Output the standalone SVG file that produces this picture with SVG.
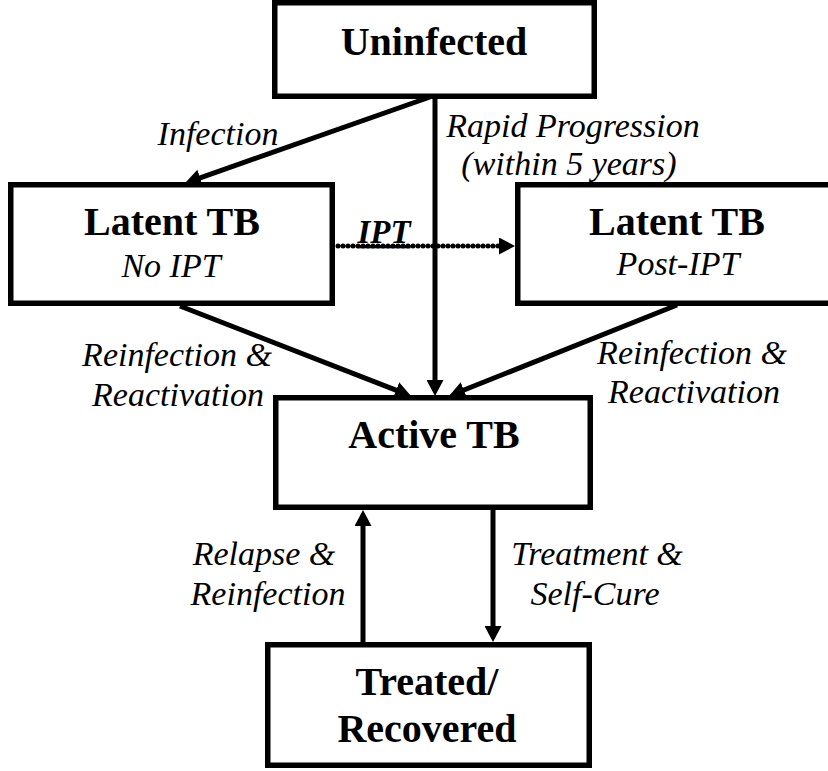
<svg xmlns="http://www.w3.org/2000/svg" width="828" height="771" viewBox="0 0 828 771">
<style>
.box{fill:#fff;stroke:#000;stroke-width:5.5}
.edge{fill:none;stroke:#000;stroke-width:5}
.dot{fill:none;stroke:#000;stroke-width:5;stroke-linecap:round;stroke-dasharray:0 5}
</style>
<defs>
<marker id="ah" markerUnits="userSpaceOnUse" markerWidth="16" markerHeight="17" viewBox="0 0 16 17" refX="6" refY="8.5" orient="auto">
<path d="M0,0 L16,8.5 L0,17 z" fill="#000"/>
</marker>
</defs>
<g id="connectors">
<line class="edge" x1="430" y1="97" x2="194.5" y2="179.8" marker-end="url(#ah)"/>
<line class="edge" x1="435" y1="97" x2="435" y2="386" marker-end="url(#ah)"/>
<line class="edge" x1="180" y1="306" x2="401.7" y2="392.4" marker-end="url(#ah)"/>
<line class="edge" x1="677" y1="305" x2="458.3" y2="392.3" marker-end="url(#ah)"/>
<line class="edge" x1="363" y1="643" x2="363" y2="520" marker-end="url(#ah)"/>
<line class="edge" x1="493" y1="510" x2="493" y2="632" marker-end="url(#ah)"/>
<line class="dot" x1="338" y1="246" x2="503" y2="246"/>
<line x1="500" y1="246" x2="505" y2="246" stroke="#000" stroke-width="4" marker-end="url(#ah)"/>
<g font-family="Liberation Serif, serif" font-style="italic" font-size="34" text-anchor="middle" fill="#000">
<text x="218" y="145">Infection</text>
<text x="573" y="137">Rapid Progression</text>
<text x="569" y="175">(within 5 years)</text>
<text x="384" y="243" font-weight="bold" font-size="33" text-decoration="underline">IPT</text>
<text x="177" y="366">Reinfection &amp;</text>
<text x="178" y="406">Reactivation</text>
<text x="692" y="364">Reinfection &amp;</text>
<text x="694" y="403">Reactivation</text>
<text x="264" y="565">Relapse &amp;</text>
<text x="268" y="605">Reinfection</text>
<text x="597" y="565">Treatment &amp;</text>
<text x="595" y="605">Self-Cure</text>
</g>
</g>
<g font-family="Liberation Serif, serif" text-anchor="middle" fill="#000">
<g id="uninfected">
<rect class="box" x="274.75" y="2.75" width="319.5" height="93.5"/>
<text x="434" y="55" font-weight="bold" font-size="40">Uninfected</text>
</g>
<g id="latent-no-ipt">
<rect class="box" x="10.75" y="184.75" width="321.5" height="118.5"/>
<text x="172" y="235" font-weight="bold" font-size="40">Latent TB</text>
<text x="171" y="277" font-style="italic" font-size="34">No IPT</text>
</g>
<g id="latent-post-ipt">
<rect class="box" x="517.75" y="184.75" width="330" height="118.5"/>
<text x="677" y="235" font-weight="bold" font-size="40">Latent TB</text>
<text x="678" y="275" font-style="italic" font-size="34">Post-IPT</text>
</g>
<g id="active-tb">
<rect class="box" x="275.75" y="397.75" width="314.5" height="109.5"/>
<text x="434" y="448" font-weight="bold" font-size="40">Active TB</text>
</g>
<g id="treated">
<rect class="box" x="267.75" y="644.75" width="321.5" height="120.5"/>
<text x="427" y="695" font-weight="bold" font-size="40">Treated/</text>
<text x="427" y="742" font-weight="bold" font-size="40">Recovered</text>
</g>
</g>
</svg>
